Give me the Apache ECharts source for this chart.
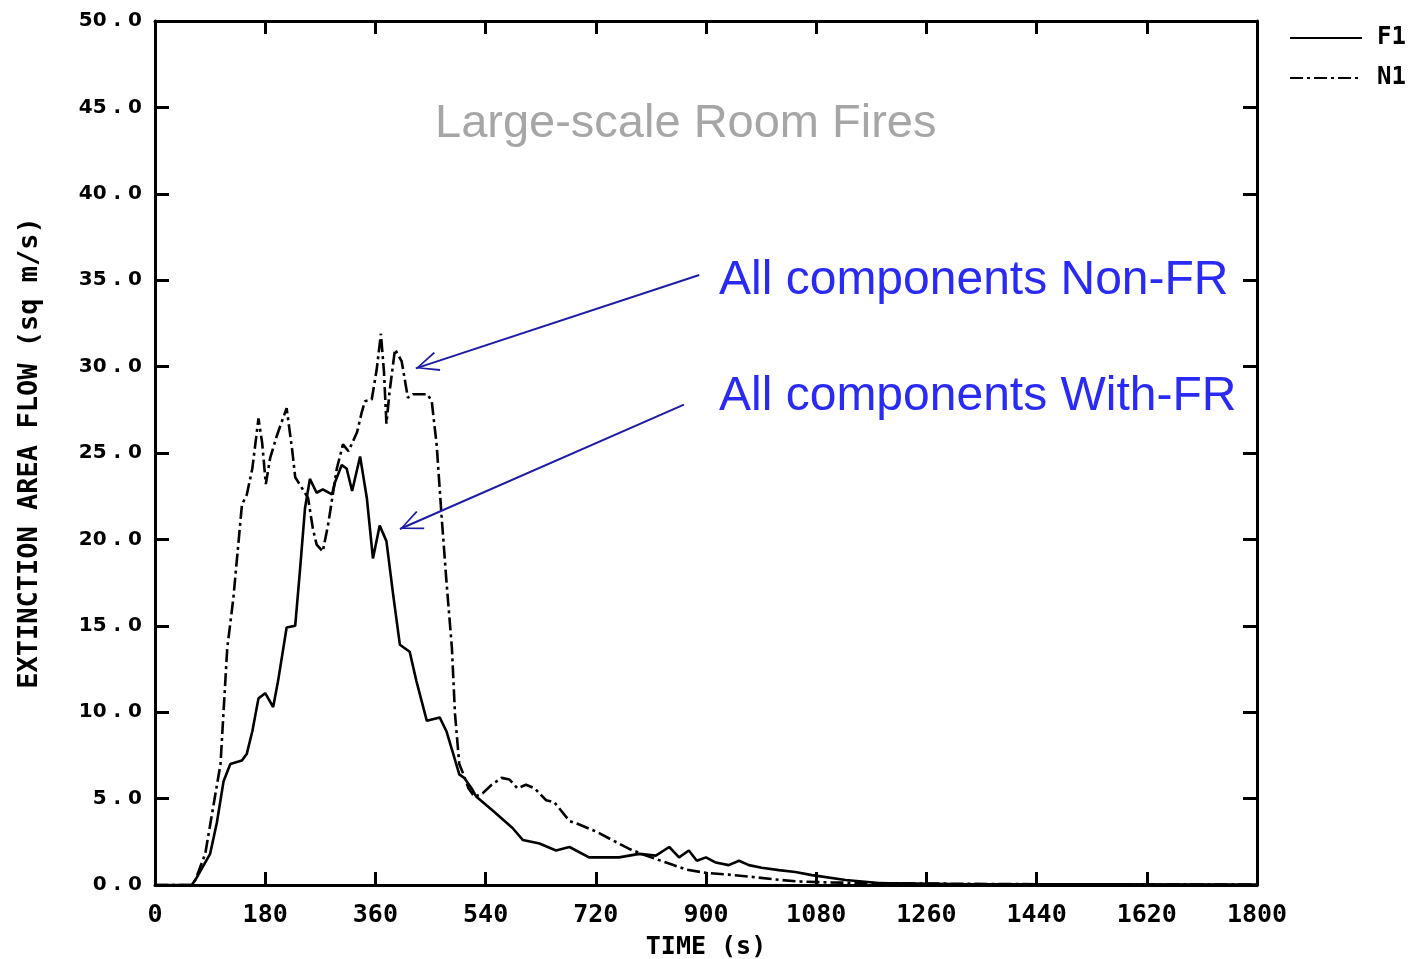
<!DOCTYPE html>
<html>
<head>
<meta charset="utf-8">
<title>Large-scale Room Fires</title>
<script src="https://cdn.jsdelivr.net/npm/echarts@6/dist/echarts.min.js"></script>
<style>
html, body { margin: 0; padding: 0; background: #fff; }
#chart { width: 1414px; height: 959px; }
</style>
</head>
<body>
<div id="chart"></div>
<script>
// time ticks (s)
var timeTicks = [0, 180, 360, 540, 720, 900, 1080, 1260, 1440, 1620, 1800];
var flowTicks = [0, 5, 10, 15, 20, 25, 30, 35, 40, 45, 50];

// F1 - all components with FR (solid)
var f1Time = [0, 60, 66, 90, 101, 112, 123, 142, 150, 159, 169, 180, 193, 201, 215, 229, 237, 245, 253,
  264, 274, 289, 294, 305, 313, 322, 335, 346, 356, 367, 378, 389, 400, 416, 427, 444, 465, 476, 487,
  497, 505, 517, 525, 552, 584, 601, 628, 655, 677, 709, 737, 758, 791, 818, 840, 856, 872, 885, 900,
  916, 937, 954, 970, 991, 1019, 1046, 1073, 1128, 1182, 1300, 1800];
var f1Flow = [0, 0, 0.3, 1.8, 3.6, 6.0, 7.0, 7.2, 7.6, 8.9, 10.8, 11.1, 10.3, 11.8, 14.9, 15.0, 18.3, 21.8, 23.5,
  22.7, 22.9, 22.6, 23.3, 24.3, 24.1, 22.8, 24.8, 22.4, 18.9, 20.8, 19.9, 16.8, 13.9, 13.5, 11.8, 9.5, 9.7, 8.9, 7.6,
  6.4, 6.2, 5.6, 5.1, 4.3, 3.3, 2.6, 2.4, 2.0, 2.2, 1.6, 1.6, 1.6, 1.8, 1.7, 2.2, 1.6, 2.0, 1.4, 1.6,
  1.3, 1.15, 1.4, 1.15, 1.0, 0.86, 0.75, 0.57, 0.29, 0.12, 0.06, 0.03];

// N1 - all components non-FR (dash-dot)
var n1Time = [0, 60, 66, 82, 95, 107, 118, 128, 142, 150, 159, 169, 175, 181, 188, 199, 215, 224, 229,
  250, 258, 264, 274, 283, 297, 307, 316, 330, 338, 343, 354, 362, 369, 374, 378, 383, 392, 403, 413,
  421, 445, 452, 460, 468, 476, 485, 490, 497, 505, 512, 522, 535, 550, 566, 579, 592, 606, 620, 639,
  652, 677, 693, 720, 747, 774, 802, 835, 867, 900, 937, 980, 1019, 1051, 1100, 1200, 1400, 1800];
var n1Flow = [0, 0, 0.3, 1.8, 4.5, 7.0, 13.7, 16.6, 22.0, 22.6, 24.1, 27.0, 25.6, 23.2, 24.7, 26.0, 27.6, 25.2, 23.6,
  22.4, 20.6, 19.7, 19.3, 20.9, 24.1, 25.5, 25.1, 26.2, 27.4, 28.0, 28.1, 29.8, 31.9, 29.7, 26.7, 28.5, 31.0, 30.3, 28.2,
  28.4, 28.4, 28.0, 25.5, 21.4, 17.6, 13.7, 9.9, 7.0, 6.3, 5.6, 5.1, 5.3, 5.8, 6.2, 6.1, 5.6, 5.8, 5.6, 4.9,
  4.8, 3.7, 3.5, 3.1, 2.6, 2.1, 1.7, 1.3, 0.9, 0.7, 0.6, 0.45, 0.3, 0.2, 0.15, 0.1, 0.05, 0.02];

// arrows: [start time, start flow, tip time, tip flow]
var arrowNonFR = [889, 35.3, 426, 29.9];
var arrowWithFR = [864, 27.8, 400, 20.6];

function pairs(xs, ys) {
  return xs.map(function (x, i) { return [x, ys[i]]; });
}

var chart = echarts.init(document.getElementById('chart'));

var plotFont = 'DejaVu Sans Mono';
// open V arrow head, tip at the centre of its box
var arrowHead = 'path://M0,-23 L0.01,-23 L0,-22.99 Z M0,0 L-10,22 L-8.4,23 L0,3.6 L8.4,23 L10,22 Z';

var frameAxis = {
  axisLine: { onZero: false, lineStyle: { color: '#000', width: 3 } },
  axisTick: { inside: true, length: 13, lineStyle: { color: '#000', width: 3 } }
};

var option = {
  animation: false,
  backgroundColor: '#fff',
  title: {
    text: 'Large-scale Room Fires',
    left: 430,
    top: 96,
    textStyle: { color: '#a6a6a6', fontSize: 47, fontWeight: 'normal', fontFamily: 'Liberation Sans' }
  },
  legend: {
    orient: 'vertical',
    left: 1284,
    top: 21,
    itemWidth: 72,
    itemHeight: 14,
    itemGap: 16,
    itemStyle: { opacity: 0 },
    textStyle: { color: '#000', fontSize: 24, fontWeight: 'bold', fontFamily: plotFont, padding: [0, 0, 0, 10] },
    data: ['F1', 'N1']
  },
  grid: { left: 155, right: 157, top: 21, bottom: 74, outerBoundsMode: 'none' },
  xAxis: [{
    type: 'value',
    min: 0, max: 1800, interval: 180,
    name: 'TIME (s)',
    nameLocation: 'middle',
    nameGap: 50,
    nameTextStyle: { color: '#000', fontSize: 25, fontWeight: 'bold', fontFamily: plotFont },
    axisLine: frameAxis.axisLine,
    axisTick: frameAxis.axisTick,
    axisLabel: {
      color: '#000', fontSize: 25, fontWeight: 'bold', fontFamily: plotFont, margin: 18,
      formatter: function (v) { return timeTicks.indexOf(v) >= 0 ? String(v) : ''; }
    },
    splitLine: { show: false }
  }, {
    type: 'value', position: 'top',
    min: 0, max: 1800, interval: 180,
    axisLine: frameAxis.axisLine,
    axisTick: frameAxis.axisTick,
    axisLabel: { show: false },
    splitLine: { show: false }
  }],
  yAxis: [{
    type: 'value',
    min: 0, max: 50, interval: 5,
    name: 'EXTINCTION AREA FLOW (sq m/s)',
    nameLocation: 'middle',
    nameGap: 112,
    nameTextStyle: { color: '#000', fontSize: 27, fontWeight: 'bold', fontFamily: plotFont },
    axisLine: { show: true, onZero: false, lineStyle: { color: '#000', width: 3 } },
    axisTick: { show: true, inside: true, length: 14, lineStyle: { color: '#000', width: 3 } },
    axisLabel: {
      color: '#000', fontSize: 20, fontWeight: 'bold', fontFamily: 'DejaVu Sans', margin: 13,
      formatter: function (v) { return flowTicks.indexOf(v) >= 0 ? v.toFixed(1).replace('.', ' . ') : ''; }
    },
    splitLine: { show: false }
  }, {
    type: 'value', position: 'right',
    min: 0, max: 50, interval: 5,
    axisLine: { show: true, onZero: false, lineStyle: { color: '#000', width: 3 } },
    axisTick: { show: true, inside: true, length: 14, lineStyle: { color: '#000', width: 3 } },
    axisLabel: { show: false },
    splitLine: { show: false }
  }],
  graphic: [{
    type: 'text', left: 719, top: 257,
    style: { text: 'All components Non-FR', fill: '#2a2af5', font: '48px "Liberation Sans"' }
  }, {
    type: 'text', left: 719, top: 373,
    style: { text: 'All components With-FR', fill: '#2a2af5', font: '48px "Liberation Sans"' }
  }],
  series: [{
    name: 'F1',
    type: 'line',
    showSymbol: false,
    symbol: 'none',
    color: '#000',
    lineStyle: { color: '#000', width: 2.6, type: 'solid' },
    data: pairs(f1Time, f1Flow),
    markLine: {
      silent: true,
      symbol: ['none', arrowHead],
      symbolSize: [20, 46],
      label: { show: false },
      lineStyle: { color: '#1c1ca6', width: 2, type: 'solid' },
      data: [
        [{ coord: [arrowNonFR[0], arrowNonFR[1]] }, { coord: [arrowNonFR[2], arrowNonFR[3]] }],
        [{ coord: [arrowWithFR[0], arrowWithFR[1]] }, { coord: [arrowWithFR[2], arrowWithFR[3]] }]
      ]
    }
  }, {
    name: 'N1',
    type: 'line',
    showSymbol: false,
    symbol: 'none',
    color: '#000',
    lineStyle: { color: '#000', width: 2.6, type: [13, 4, 3, 4] },
    data: pairs(n1Time, n1Flow)
  }]
};

chart.setOption(option);
</script>
</body>
</html>
